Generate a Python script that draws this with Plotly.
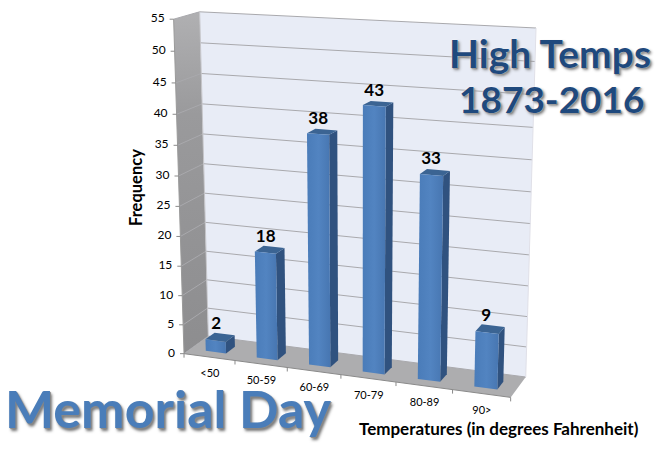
import numpy as np
import plotly.graph_objects as go

categories = ["<50", "50-59", "60-69", "70-79", "80-89", "90>"]
frequency = [2, 18, 38, 43, 33, 9]
y_ticks = [0, 5, 10, 15, 20, 25, 30, 35, 40, 45, 50, 55]
y_max = 55
BAR_X = (0.30, 0.70)
BAR_D = (0.27, 0.65)

# 3D chart box -> page projection, calibrated on the corners of the drawn box
n_cat = len(categories)
corners = [((0, 0, 0), (184.3, 353.3)), ((n_cat, 0, 0), (510.7, 397.7)),
           ((0, 1, 0), (208, 336.5)), ((n_cat, 1, 0), (525.7, 376.7)),
           ((0, 0, y_max), (173.3, 19.3)), ((0, 1, y_max), (200, 11.7)),
           ((n_cat, 1, y_max), (536, 28))]
A, b = [], []
for (X, Y, Z), (u, v) in corners:
    A.append([X, Y, Z, 1, 0, 0, 0, 0, -u * X, -u * Y, -u * Z]); b.append(u)
    A.append([0, 0, 0, 0, X, Y, Z, 1, -v * X, -v * Y, -v * Z]); b.append(v)
P = np.append(np.linalg.lstsq(np.array(A, float), np.array(b, float), rcond=None)[0], 1).reshape(3, 4)


def proj(x, d, z):
    r = P @ np.array([x, d, z, 1.0])
    return r[0] / r[2], r[1] / r[2]


fig = go.Figure()


def poly(pts, color=None, gradient=None):
    xy = [proj(*p) for p in pts] + [proj(*pts[0])]
    kw = dict(fillgradient=gradient) if gradient else dict(fillcolor=color)
    fig.add_trace(go.Scatter(x=[q[0] for q in xy], y=[q[1] for q in xy], mode="lines",
                             fill="toself", line=dict(width=0), hoverinfo="skip", **kw))


def seg(p, q, color="#a9a9ad", width=1):
    a, c = proj(*p), proj(*q)
    fig.add_trace(go.Scatter(x=[a[0], c[0]], y=[a[1], c[1]], mode="lines",
                             line=dict(color=color, width=width), hoverinfo="skip"))


# walls and floor
poly([(0, 0, 0), (0, 1, 0), (0, 1, y_max), (0, 0, y_max)],
     gradient=dict(type="vertical", colorscale=[[0, "#8d8d8f"], [0.7, "#9a9a9c"], [1, "#b0b0b2"]]))
poly([(0, 1, 0), (n_cat, 1, 0), (n_cat, 1, y_max), (0, 1, y_max)], color="#e8ecf6")
poly([(0, 0, 0), (n_cat, 0, 0), (n_cat, 1, 0), (0, 1, 0)], color="#adadaf")

# gridlines
for t in y_ticks:
    seg((0, 0, t), (0, 1, t))
    seg((0, 1, t), (n_cat, 1, t))
seg((0, 1, 0), (0, 1, y_max), "#c4c4c8")
seg((n_cat, 1, 0), (n_cat, 1, y_max), "#e0e0e8")

# axis lines and tick marks
seg((0, 0, 0), (n_cat, 0, 0), "#8a8a8a")
seg((0, 0, 0), (0, 0, y_max), "#9a9a9a")
for i in range(n_cat + 1):
    a = proj(i, 0, 0)
    fig.add_trace(go.Scatter(x=[a[0], a[0]], y=[a[1], a[1] + 4], mode="lines",
                             line=dict(color="#8a8a8a", width=1), hoverinfo="skip"))
for t in y_ticks:
    a = proj(0, 0, t)
    fig.add_trace(go.Scatter(x=[a[0] - 4, a[0]], y=[a[1], a[1]], mode="lines",
                             line=dict(color="#8a8a8a", width=1), hoverinfo="skip"))

# bars
for i, v in enumerate(frequency):
    x0, x1 = i + BAR_X[0], i + BAR_X[1]
    d0, d1 = BAR_D
    poly([(x1, d0, 0), (x1, d1, 0), (x1, d1, v), (x1, d0, v)], color="#30527f")
    poly([(x0, d0, v), (x1, d0, v), (x1, d1, v), (x0, d1, v)], color="#3b6493")
    poly([(x0, d0, 0), (x1, d0, 0), (x1, d0, v), (x0, d0, v)],
         gradient=dict(type="horizontal",
                       colorscale=[[0, "#4a7cb9"], [0.5, "#5284c1"], [1, "#4776b1"]]))

# data labels
pts = [proj(i + 0.5, sum(BAR_D) / 2, v) for i, v in enumerate(frequency)]
fig.add_trace(go.Scatter(x=[p[0] - 4 for p in pts], y=[p[1] - 4 for p in pts], mode="text",
                         text=[str(v) for v in frequency], textposition="top center",
                         textfont=dict(family="Lato", size=17, color="black", weight="bold"),
                         hoverinfo="skip"))
# tick labels
pts = [proj(i + 0.5, 0, 0) for i in range(n_cat)]
fig.add_trace(go.Scatter(x=[p[0] + 0.5 for p in pts], y=[p[1] + 17.5 for p in pts], mode="text",
                         text=categories, textposition="middle center",
                         textfont=dict(family="Lato", size=11, color="black"), hoverinfo="skip"))
pts = [proj(0, 0, t) for t in y_ticks]
fig.add_trace(go.Scatter(x=[p[0] - 9 for p in pts], y=[p[1] for p in pts], mode="text",
                         text=[str(t) for t in y_ticks], textposition="middle left",
                         textfont=dict(family="Lato", size=12, color="black"), hoverinfo="skip"))


def note(text, x, y, size, color, shadow="none", textangle=0):
    fig.add_annotation(text=text, x=x, y=y, xref="x", yref="y", showarrow=False, textangle=textangle,
                       font=dict(family="Lato", size=size, color=color, weight="bold", shadow=shadow))


glow = "0 0 2px #fff, 1px 1px 1px #777, 2px 2px 3px #888"
note("Frequency", 136, 188, 16.5, "black", textangle=-90)
note("Temperatures (in degrees Fahrenheit)", 499, 428, 17, "black")
note("Memorial Day", 168, 408, 52, "#4a7db9", "1px 1px 1px #888, 2px 3px 3px #777")
note("High Temps", 550, 53, 39, "#1f497d", glow)
note("1873-2016", 551, 98, 37, "#1f497d", glow)

fig.update_layout(width=668, height=452, margin=dict(l=0, r=0, t=0, b=0), showlegend=False,
                  plot_bgcolor="white", paper_bgcolor="white",
                  xaxis=dict(range=[0, 668], visible=False),
                  yaxis=dict(range=[452, 0], visible=False))
fig.write_html("out.html", config=dict(displayModeBar=False),
               post_script="document.body.style.margin='0';")
